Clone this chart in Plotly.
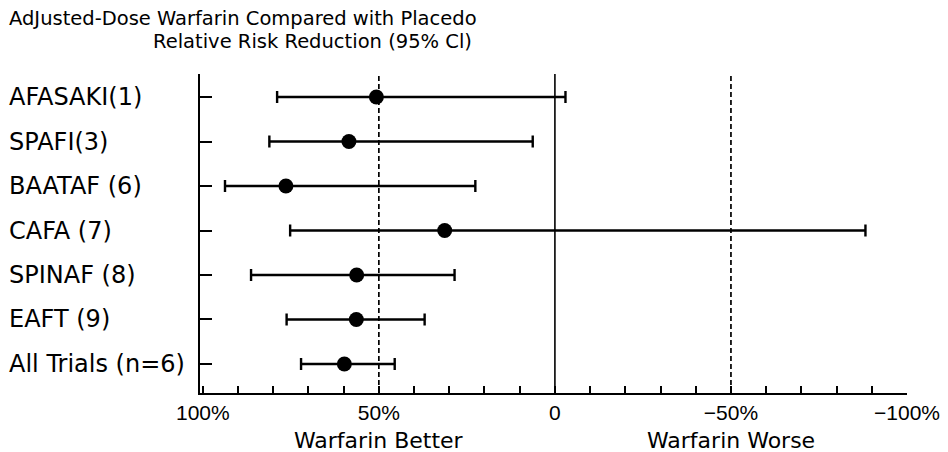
import plotly.graph_objects as go

trials = ["AFASAKI(1)", "SPAFI(3)", "BAATAF (6)", "CAFA (7)", "SPINAF (8)", "EAFT (9)", "All Trials (n=6)"]
rrr = [50.7, 58.5, 76.4, 31.3, 56.3, 56.4, 59.8]
ci_low = [78.9, 81.1, 93.7, 75.2, 86.3, 76.2, 72.1]
ci_high = [-3.0, 6.3, 22.6, -88.2, 28.5, 37.0, 45.5]
tick_vals = [100, 90, 80, 70, 60, 50, 40, 30, 20, 10, 0, -10, -20, -30, -40, -50, -60, -70, -80, -90, -100]
tick_text = ["100%", "", "", "", "", "50%", "", "", "", "", "0", "", "", "", "", "\u221250%", "", "", "", "", "\u2212100%"]
ref_dashed = [50, -50]
side_labels = ["Warfarin Better", "Warfarin Worse"]
title_1 = "AdJusted-Dose Warfarin Compared with Placedo"
title_2 = "Relative Risk Reduction (95% Cl)"

W, H = 948, 452
ML, MR, MT, MB = 200, 41, 74, 59
PW = W - ML - MR

n = len(trials)
ypos = list(range(n, 0, -1))

fig = go.Figure()

for xv in ref_dashed:
    fig.add_shape(type="line", x0=xv, x1=xv, y0=0, y1=1, xref="x", yref="paper",
                  line=dict(color="black", width=1.7, dash="5px,3px"), layer="below")
fig.add_shape(type="line", x0=0, x1=0, y0=0, y1=1, xref="x", yref="paper",
              line=dict(color="black", width=1.6), layer="below")

fig.add_trace(go.Scatter(
    x=rrr, y=ypos, mode="markers",
    marker=dict(color="black", size=15, symbol="circle"),
    error_x=dict(type="data", symmetric=False,
                 array=[l - r for r, l in zip(rrr, ci_low)],
                 arrayminus=[r - h for r, h in zip(rrr, ci_high)],
                 color="black", thickness=2.4, width=6),
    showlegend=False, hoverinfo="skip"))

for name, y in zip(trials, ypos):
    fig.add_annotation(x=(7 - ML) / PW, xref="paper", y=y, yref="y", text=name, showarrow=False,
                       xanchor="left", yanchor="middle",
                       font=dict(family="DejaVu Sans", size=24, color="black"))

for lab, xv in zip(side_labels, ref_dashed):
    fig.add_annotation(x=xv, xref="x", y=0, yref="paper", yshift=-47, text=lab, showarrow=False,
                       xanchor="center", yanchor="middle",
                       font=dict(family="DejaVu Sans", size=22, color="black"))

fig.add_annotation(x=(7 - ML) / PW, xref="paper", y=1, yref="paper", yshift=MT - 18,
                   text=title_1, showarrow=False, xanchor="left", yanchor="middle",
                   font=dict(family="DejaVu Sans", size=19.5, color="black"))
fig.add_annotation(x=(312 - ML) / PW, xref="paper", y=1, yref="paper", yshift=MT - 41,
                   text=title_2, showarrow=False, xanchor="center", yanchor="middle",
                   font=dict(family="DejaVu Sans", size=19.5, color="black"))

fig.update_xaxes(range=[100.8, -100], tickmode="array", tickvals=tick_vals, ticktext=tick_text,
                 ticks="inside", ticklen=7, tickwidth=1.5, tickcolor="black", automargin=False,
                 showline=True, linecolor="black", linewidth=2, showgrid=False, zeroline=False,
                 tickfont=dict(family="Liberation Sans Narrow, Liberation Sans", size=21, color="black"))
fig.update_yaxes(range=[0.348, 7.517], tickmode="array", tickvals=ypos, ticktext=[""] * n,
                 ticks="inside", ticklen=12, tickwidth=1.5, tickcolor="black", automargin=False,
                 showline=True, linecolor="black", linewidth=2, showgrid=False, zeroline=False)

fig.update_layout(width=W, height=H, margin=dict(l=ML, r=MR, t=MT, b=MB, autoexpand=False),
                  paper_bgcolor="white", plot_bgcolor="white")

fig.write_html("out.html", config={"displayModeBar": False},
               post_script="document.body.style.margin='0';")
